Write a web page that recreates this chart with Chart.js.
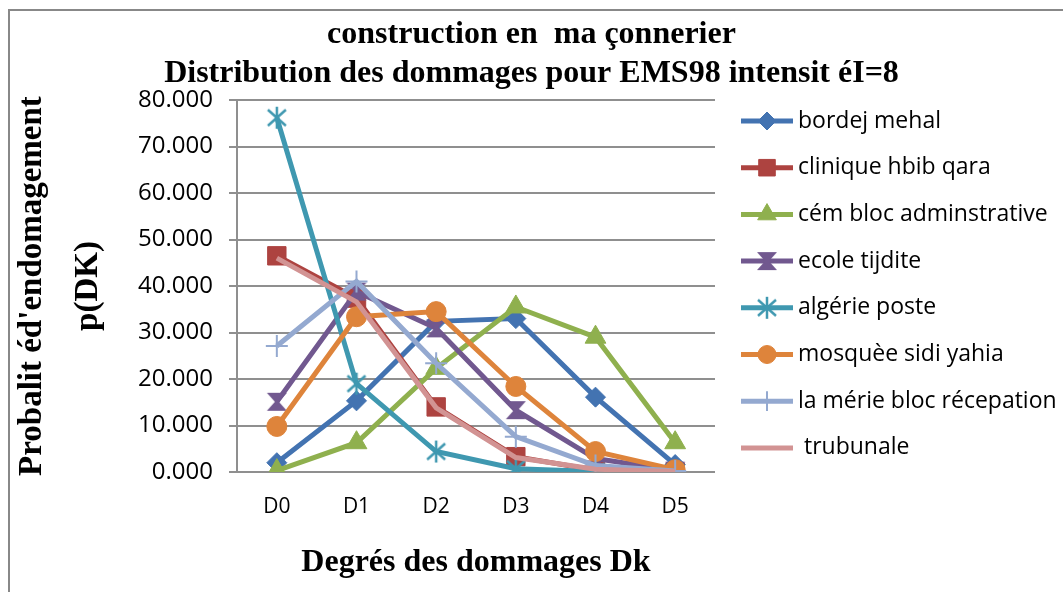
<!DOCTYPE html>
<html>
<head>
    <title>Distribution des dommages EMS98</title>
    <script src="https://cdn.jsdelivr.net/npm/chart.js"></script>
    <style>
        body {
            margin: 0;
            background: #fff;
        }

        .chart-container {
            position: relative;
            width: 1063px;
            height: 592px;
        }

        .frame {
            position: absolute;
            left: 8px;
            top: 9px;
            right: 0;
            bottom: 0;
            border-top: 2px solid #888;
            border-left: 2px solid #888;
        }

        canvas {
            position: absolute;
            left: 0;
            top: 0;
        }
    </style>
</head>
<body>

    <div class="chart-container">
        <div class="frame"></div>
        <canvas id="damageChart" width="1063" height="592"></canvas>
    </div>

    <script>
        const degrees = ['D0', 'D1', 'D2', 'D3', 'D4', 'D5'];
        const yTicks = [0, 10, 20, 30, 40, 50, 60, 70, 80];

        const buildings = [
            'bordej mehal',
            'clinique hbib qara',
            'cém bloc adminstrative',
            'ecole tijdite',
            'algérie poste',
            'mosquèe sidi yahia',
            'la mérie bloc récepation',
            ' trubunale'
        ];

        const bordejMehal      = [2.0, 15.3, 32.4, 33.0, 16.1, 1.6];
        const cliniqueHbibQara = [46.5, 37.4, 14.0, 3.3, 0.4, 0.0];
        const cemBloc          = [0.3, 6.3, 22.3, 35.5, 29.0, 6.3];
        const ecoleTijdite     = [15.1, 38.8, 30.9, 13.3, 2.9, 0.3];
        const algeriePoste     = [76.2, 19.0, 4.4, 0.7, 0.1, 0.0];
        const mosqueeSidiYahia = [9.8, 33.4, 34.5, 18.4, 4.4, 0.5];
        const laMerieBloc      = [27.1, 41.0, 23.4, 7.6, 1.4, 0.2];
        const trubunale        = [46.0, 36.6, 13.8, 3.1, 0.6, 0.1];

        const seriesValues = [bordejMehal, cliniqueHbibQara, cemBloc, ecoleTijdite,
                              algeriePoste, mosqueeSidiYahia, laMerieBloc, trubunale];
        const lineColors = ['#4373B1', '#AD4340', '#8FB04E', '#71588F',
                            '#3F98B0', '#DE843B', '#94A9D0', '#D29393'];

        // hourglass marker
        function hourglass(color) {
            const c = document.createElement('canvas');
            c.width = 22; c.height = 20;
            const g = c.getContext('2d');
            g.fillStyle = color;
            g.beginPath();
            g.moveTo(1, 1); g.lineTo(21, 1); g.lineTo(13, 10);
            g.lineTo(21, 19); g.lineTo(1, 19); g.lineTo(9, 10);
            g.closePath();
            g.fill();
            return c;
        }

        // star marker: X with a vertical bar
        function starMarker(color) {
            const c = document.createElement('canvas');
            c.width = 24; c.height = 24;
            const g = c.getContext('2d');
            g.strokeStyle = color;
            g.lineWidth = 2.5;
            g.beginPath();
            g.moveTo(3, 4); g.lineTo(21, 20);
            g.moveTo(21, 4); g.lineTo(3, 20);
            g.moveTo(12, 1); g.lineTo(12, 23);
            g.stroke();
            return c;
        }

        const markers = [
            { style: 'rectRot', radius: 10, border: 1 },
            { style: 'rect', radius: 13, border: 1 },
            { style: 'triangle', radius: 12, border: 1 },
            { style: hourglass(lineColors[3]), radius: 10, border: 1 },
            { style: starMarker(lineColors[4]), radius: 10, border: 1 },
            { style: 'circle', radius: 10, border: 1 },
            { style: 'cross', radius: 11, border: 2 },
            { style: false, radius: 0, border: 0 }
        ];

        const datasets = buildings.map((name, i) => ({
            label: name,
            data: seriesValues[i],
            borderColor: lineColors[i],
            backgroundColor: lineColors[i],
            pointBackgroundColor: lineColors[i],
            pointBorderColor: lineColors[i],
            borderWidth: 5,
            pointStyle: markers[i].style,
            pointRadius: markers[i].radius,
            pointBorderWidth: markers[i].border,
            tension: 0,
            order: buildings.length - i
        }));

        // legend on the right: line sample with marker in the middle
        const sideLegend = {
            id: 'sideLegend',
            afterDraw(chart) {
                const ctx = chart.ctx;
                ctx.save();
                datasets.forEach((ds, i) => {
                    const y = 121 + i * 46.7;
                    ctx.strokeStyle = ds.borderColor;
                    ctx.lineWidth = 5;
                    ctx.beginPath();
                    ctx.moveTo(741, y);
                    ctx.lineTo(793, y);
                    ctx.stroke();
                    if (ds.pointStyle) {
                        ctx.fillStyle = ds.borderColor;
                        ctx.strokeStyle = ds.borderColor;
                        ctx.lineWidth = ds.pointBorderWidth;
                        Chart.helpers.drawPoint(ctx, {
                            pointStyle: ds.pointStyle,
                            radius: ds.pointRadius * 0.9,
                            borderWidth: ds.pointBorderWidth,
                            rotation: 0
                        }, 767, y);
                    }
                    ctx.fillStyle = '#000';
                    ctx.font = '23px "Open Sans"';
                    ctx.textBaseline = 'middle';
                    ctx.textAlign = 'left';
                    ctx.fillText(ds.label, 798, y);
                });
                ctx.restore();
            }
        };

        const serif = 'Liberation Serif';

        new Chart(document.getElementById('damageChart'), {
            type: 'line',
            data: {
                labels: degrees,
                datasets: datasets
            },
            options: {
                responsive: false,
                animation: false,
                layout: {
                    padding: 0
                },
                plugins: {
                    legend: { display: false },
                    tooltip: { enabled: false },
                    title: {
                        display: true,
                        text: ['construction en  ma çonnerier',
                               'Distribution des dommages pour EMS98 intensit éI=8'],
                        color: '#000',
                        font: { family: serif, size: 32, weight: 'bold', lineHeight: 1.22 },
                        padding: { top: 15, bottom: 7 }
                    }
                },
                scales: {
                    x: {
                        offset: true,
                        grid: { display: false, drawTicks: false },
                        border: { display: false },
                        ticks: {
                            color: '#000',
                            padding: 22,
                            font: { family: 'Open Sans', size: 21 }
                        },
                        title: {
                            display: true,
                            text: 'Degrés des dommages Dk',
                            color: '#000',
                            font: { family: serif, size: 32, weight: 'bold' },
                            padding: { top: 10, bottom: 10 }
                        },
                        afterFit(scale) { scale.height = 120; }
                    },
                    y: {
                        min: 0,
                        max: 80,
                        afterBuildTicks(scale) {
                            scale.ticks = yTicks.map(v => ({ value: v }));
                        },
                        grid: {
                            color: '#8f8f8f',
                            lineWidth: 2,
                            tickLength: 8
                        },
                        border: { display: true, color: '#8f8f8f', width: 2 },
                        ticks: {
                            color: '#000',
                            padding: 16,
                            font: { family: 'Open Sans', size: 24 },
                            callback: v => v.toFixed(3)
                        },
                        title: {
                            display: true,
                            text: ["Probalit éd'endomagement", 'p(DK)'],
                            color: '#000',
                            font: { family: serif, size: 33, weight: 'bold', lineHeight: 1.7 },
                            padding: { top: 4, bottom: 0 }
                        },
                        afterFit(scale) { scale.width = 237; }
                    },
                    // empty right-hand box that leaves room for the legend
                    legendSpace: {
                        type: 'linear',
                        position: 'right',
                        grid: { display: false },
                        border: { display: false },
                        ticks: { display: false },
                        afterFit(scale) { scale.width = 348; }
                    }
                }
            },
            plugins: [sideLegend]
        });
    </script>
</body>
</html>
